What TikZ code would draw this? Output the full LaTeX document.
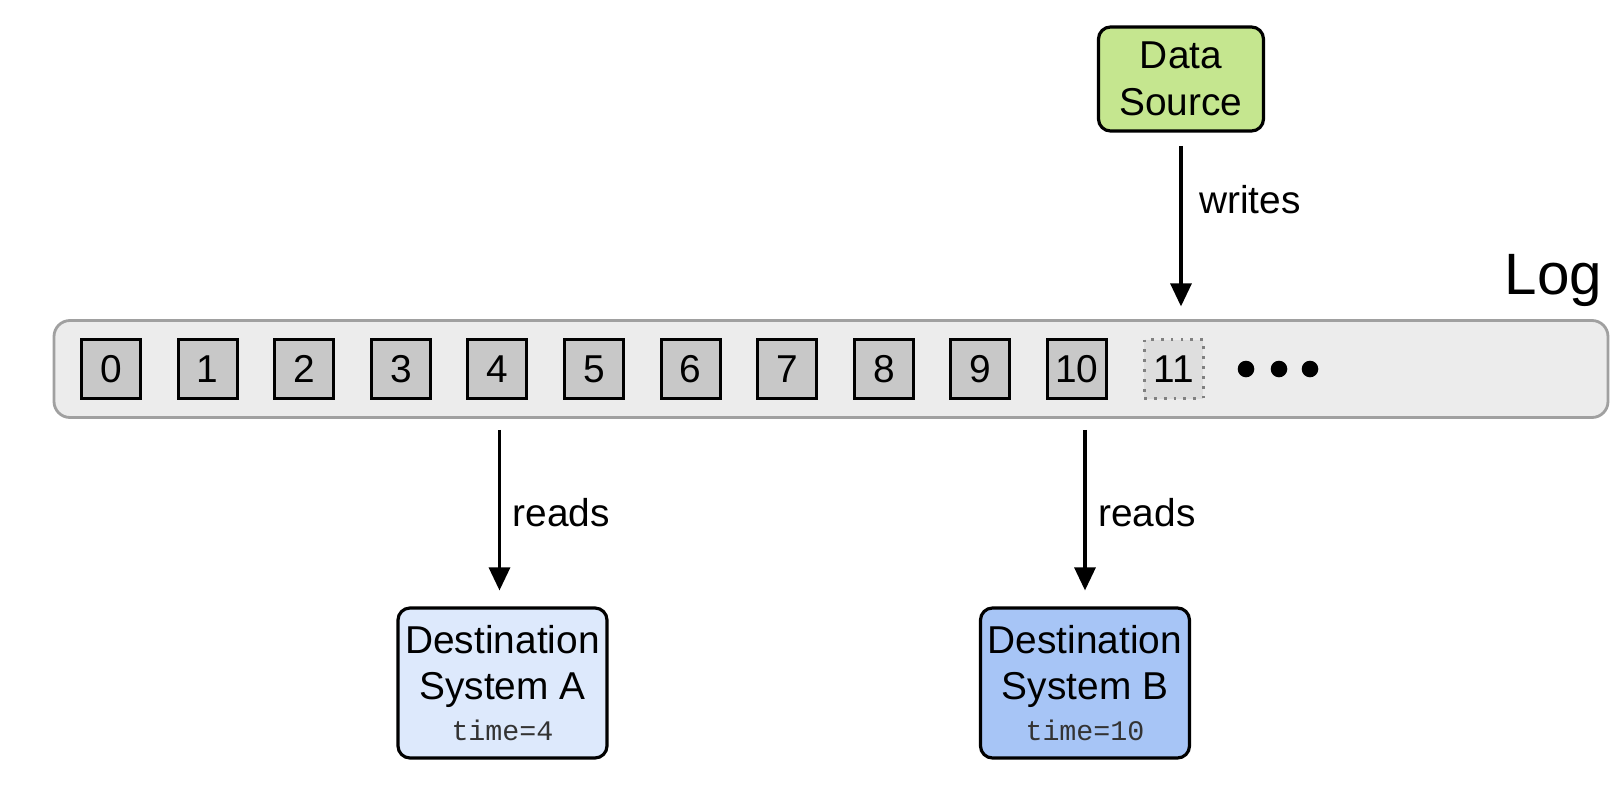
\documentclass[tikz,border=0pt]{standalone}
\usepackage{fontspec}
\setmainfont{Liberation Sans}
\setmonofont{Liberation Mono}
\usetikzlibrary{arrows.meta,calc}

\definecolor{srcgreen}{HTML}{C5E68F}
\definecolor{dstlight}{HTML}{DDE9FC}
\definecolor{dstdark}{HTML}{A7C5F6}
\definecolor{logfill}{HTML}{ECECEC}
\definecolor{logline}{HTML}{A0A0A0}
\definecolor{cellfill}{HTML}{C8C8C8}
\definecolor{nextfill}{HTML}{DEDEDE}
\definecolor{timegray}{HTML}{333333}

\tikzset{
  txt/.style={font=\fontsize{11.05}{13.3}\selectfont},
  box/.style={txt, draw, line width=0.9pt, rounded corners=0.12cm, align=center, inner sep=0pt},
  cell/.style={txt, draw, line width=0.8pt, fill=cellfill, minimum size=0.59cm, inner sep=0pt},
  nextcell/.style={cell, draw=gray, dotted, fill=nextfill},
  arr/.style={line width=0.9pt, -{Triangle[width=0.21cm,length=0.23cm]}},
}
\newcommand{\timetxt}[1]{{\ttfamily\fontsize{8.06}{9}\selectfont\color{timegray}#1}}

\begin{document}
\begin{tikzpicture}
            \useasboundingbox (0,0) rectangle (16.18,7.84);

            \node[draw=logline, line width=0.8pt, fill=logfill, rounded corners=0.16cm,
                  minimum width=15.54cm, minimum height=0.97cm] at (8.31,4.15) (LOG) {};
            \node[font=\fontsize{16.6}{19}\selectfont, anchor=base east, inner sep=0pt] at (16.03,4.90) (LOGLBL) {Log};

            \node[cell] at (1.11,4.15) (C0) {0};
            \node[cell] at (2.076,4.15) (C1) {1};
            \node[cell] at (3.042,4.15) (C2) {2};
            \node[cell] at (4.008,4.15) (C3) {3};
            \node[cell] at (4.974,4.15) (C4) {4};
            \node[cell] at (5.94,4.15) (C5) {5};
            \node[cell] at (6.906,4.15) (C6) {6};
            \node[cell] at (7.872,4.15) (C7) {7};
            \node[cell] at (8.838,4.15) (C8) {8};
            \node[cell] at (9.804,4.15) (C9) {9};
            \node[cell] at (10.77,4.15) (C10) {10};
            \node[nextcell] at (11.736,4.15) (C11) {11};
            \fill (12.46,4.15) circle (0.083) (12.79,4.15) circle (0.083) (13.10,4.15) circle (0.083);

            \node[box, fill=srcgreen, minimum width=1.65cm, minimum height=1.04cm] at (11.81,7.05) (DS) {Data\\Source};
            \node[box, fill=dstlight, minimum width=2.09cm, minimum height=1.5cm] at (5.025,1.01) (DA)
                {Destination\\System A\\[-1.7pt]\timetxt{time=4}};
            \node[box, fill=dstdark, minimum width=2.09cm, minimum height=1.5cm] at (10.85,1.01) (DB)
                {Destination\\System B\\[-1.7pt]\timetxt{time=10}};

            \draw[arr, shorten <=0.134cm, shorten >=0.127cm] (DS.south) -- (DS.south |- LOG.north)
                node[txt, right, pos=0.36, xshift=0.05cm] {writes};
            \draw[arr, shorten <=0.11cm, shorten >=0.16cm] ([xshift=-0.03cm]DA.north |- LOG.south) -- ([xshift=-0.03cm]DA.north)
                node[txt, right, midway] {reads};
            \draw[arr, shorten <=0.11cm, shorten >=0.16cm] (DB.north |- LOG.south) -- (DB.north)
                node[txt, right, midway] {reads};
        \end{tikzpicture}
\end{document}
